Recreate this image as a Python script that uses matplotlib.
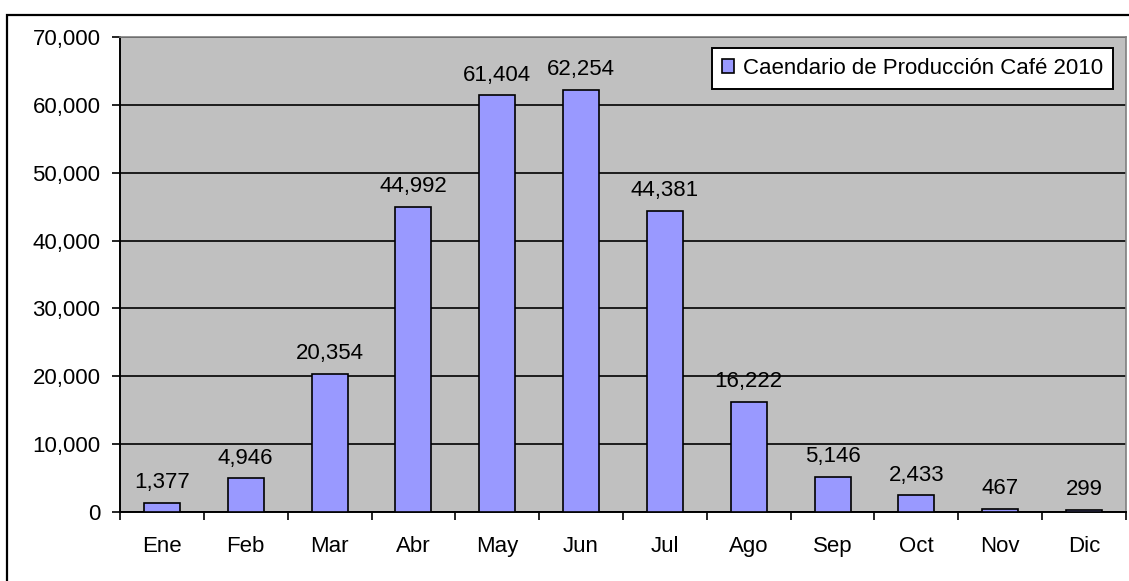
import matplotlib.pyplot as plt
from matplotlib.patches import Rectangle
from matplotlib.ticker import FuncFormatter, FixedLocator, NullFormatter
import numpy as np

months = ["Ene", "Feb", "Mar", "Abr", "May", "Jun",
          "Jul", "Ago", "Sep", "Oct", "Nov", "Dic"]
production = [1377, 4946, 20354, 44992, 61404, 62254,
              44381, 16222, 5146, 2433, 467, 299]
series_name = "Caendario de Producción Caf\u00e9 2010"

plt.rcParams["font.family"] = ["Liberation Sans", "DejaVu Sans"]
FS = 16

W, H = 1129, 581
fig = plt.figure(figsize=(W / 100, H / 100), dpi=100)

# outer chart frame (cut off at right and bottom like the reference)
fig.patches.append(Rectangle(
    (7 / W, -0.1), 1.2, 1 + 0.1 - 15 / H,
    transform=fig.transFigure, fill=False,
    edgecolor="black", linewidth=1.6
))

left, right, top, bottom = 120, 1126, 37, 512
ax = fig.add_axes([left / W, 1 - bottom / H, (right - left) / W, (bottom - top) / H])
ax.set_facecolor("#C0C0C0")

x = np.arange(len(months))
ax.bar(x, production, width=0.43, color="#9999FF",
       edgecolor="black", linewidth=1.2, label=series_name, zorder=3)

for xi, v in zip(x, production):
    ax.annotate(f"{v:,}", (xi, v), xytext=(0, 7), textcoords="offset points",
                ha="center", va="bottom", fontsize=FS)

ax.set_xlim(-0.5, len(months) - 0.5)
ax.set_ylim(0, 70000)
ax.set_yticks(np.arange(0, 70001, 10000))
ax.yaxis.set_major_formatter(FuncFormatter(lambda v, p: f"{int(v):,}"))
ax.yaxis.grid(True, color="black", linewidth=1.2, zorder=0)
ax.set_axisbelow(True)

ax.xaxis.set_major_locator(FixedLocator(np.arange(-0.5, len(months), 1)))
ax.xaxis.set_major_formatter(NullFormatter())
ax.xaxis.set_minor_locator(FixedLocator(x))
ax.set_xticklabels(months, minor=True)
ax.tick_params(axis="x", which="major", direction="out", length=6, width=1.2)
ax.tick_params(axis="x", which="minor", length=0, pad=17, labelsize=FS)
ax.tick_params(axis="y", direction="out", length=6, width=1.2, labelsize=FS, pad=8)

for side in ["left", "bottom"]:
    ax.spines[side].set_linewidth(1.4)
    ax.spines[side].set_color("black")
for side in ["top", "right"]:
    ax.spines[side].set_linewidth(1.2)
    ax.spines[side].set_color("#808080")

leg = ax.legend(loc="upper right", bbox_to_anchor=(0.987, 0.977),
                fontsize=FS, frameon=True, fancybox=False,
                handlelength=0.55, handleheight=0.55, handletextpad=0.4,
                borderpad=0.45, borderaxespad=0)
leg.get_frame().set_edgecolor("black")
leg.get_frame().set_linewidth(1.4)
leg.get_frame().set_facecolor("white")
leg.get_frame().set_alpha(1)

fig.savefig("out.png", dpi=100)
